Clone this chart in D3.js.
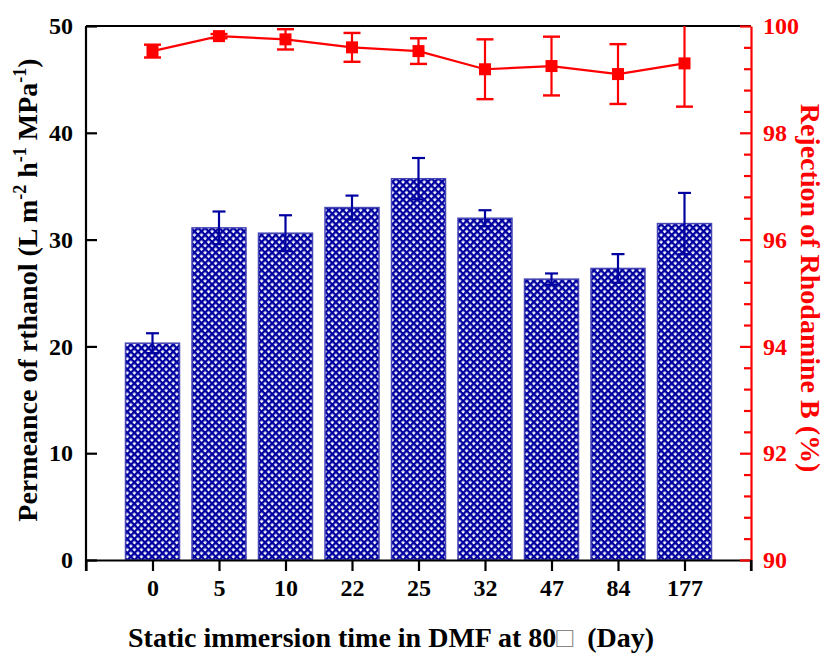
<!DOCTYPE html>
<html>
<head>
<meta charset="utf-8">
<script src="https://cdn.jsdelivr.net/npm/d3@7"></script>
<style>
  body { margin: 0; background: #fff; }
  svg { display: block; font-family: "Liberation Serif", "Times New Roman", serif; font-weight: bold; }
</style>
</head>
<body>
<div id="chart"></div>
<script>
// data
var days = ["0", "5", "10", "22", "25", "32", "47", "84", "177"];
var permeance = [20.3, 31.1, 30.6, 33.0, 35.7, 32.0, 26.3, 27.3, 31.5];
var permeanceErr = [0.93, 1.53, 1.68, 1.12, 1.94, 0.75, 0.53, 1.34, 2.87];
var rejection = [99.53, 99.81, 99.75, 99.60, 99.53, 99.19, 99.25, 99.10, 99.30];
var rejectionErr = [0.12, 0.04, 0.19, 0.27, 0.24, 0.56, 0.55, 0.56, 0.81];

var W = 827, H = 657;
var mLeft = 86, mRight = 751, mTop = 26, mBottom = 560;
var blue = "#0000a0", red = "#ff0000";
var tickFont = 24, titleFont = 28;

var svg = d3.select("#chart").append("svg")
  .attr("width", W).attr("height", H);

// crosshatch fill for the bars
var cell = 5, band = 2.35;
var pat = svg.append("defs").append("pattern")
  .attr("id", "hatch")
  .attr("patternUnits", "userSpaceOnUse")
  .attr("width", cell).attr("height", cell)
  .attr("patternTransform", "rotate(45)");
pat.append("rect").attr("width", cell).attr("height", cell).attr("fill", "#fff");
pat.append("rect").attr("width", cell).attr("height", band).attr("fill", blue);
pat.append("rect").attr("width", band).attr("height", cell).attr("fill", blue);

var x = d3.scaleLinear().domain([-1, 9]).range([mLeft, mRight]);
var y = d3.scaleLinear().domain([0, 50]).range([mBottom, mTop]);
var y2 = d3.scaleLinear().domain([90, 100]).range([mBottom, mTop]);

var barW = 54;

// bars
svg.append("g").selectAll("rect")
  .data(permeance)
  .join("rect")
  .attr("x", function(d, i) { return x(i) - barW / 2; })
  .attr("y", function(d) { return y(d); })
  .attr("width", barW)
  .attr("height", function(d) { return y(0) - y(d); })
  .attr("fill", "url(#hatch)")
  .attr("stroke", "#4545b5")
  .attr("stroke-width", 1.5);

// bar error bars
var eb = svg.append("g").attr("stroke", blue).attr("stroke-width", 2.2);
permeance.forEach(function(v, i) {
  var cx = x(i), e = permeanceErr[i];
  eb.append("line").attr("x1", cx).attr("x2", cx).attr("y1", y(v + e)).attr("y2", y(v - e));
  eb.append("line").attr("x1", cx - 6.5).attr("x2", cx + 6.5).attr("y1", y(v + e)).attr("y2", y(v + e));
  eb.append("line").attr("x1", cx - 6.5).attr("x2", cx + 6.5).attr("y1", y(v - e)).attr("y2", y(v - e));
});

// top frame line
svg.append("line")
  .attr("x1", mLeft).attr("x2", mRight).attr("y1", mTop).attr("y2", mTop)
  .attr("stroke", "#000").attr("stroke-width", 2.2);

// rejection line with error bars
var rg = svg.append("g");
rg.append("path")
  .datum(rejection)
  .attr("fill", "none")
  .attr("stroke", red)
  .attr("stroke-width", 2.2)
  .attr("d", d3.line()
    .x(function(d, i) { return x(i); })
    .y(function(d) { return y2(d); }));

rejection.forEach(function(v, i) {
  var cx = x(i), e = rejectionErr[i];
  var hi = v + e, lo = v - e;
  var yHi = Math.max(y2(hi), mTop);
  rg.append("line").attr("x1", cx).attr("x2", cx).attr("y1", yHi).attr("y2", y2(lo))
    .attr("stroke", red).attr("stroke-width", 2.2);
  if (hi <= 100) {
    rg.append("line").attr("x1", cx - 8.5).attr("x2", cx + 8.5).attr("y1", y2(hi)).attr("y2", y2(hi))
      .attr("stroke", red).attr("stroke-width", 2.4);
  }
  rg.append("line").attr("x1", cx - 8.5).attr("x2", cx + 8.5).attr("y1", y2(lo)).attr("y2", y2(lo))
    .attr("stroke", red).attr("stroke-width", 2.4);
  rg.append("rect").attr("x", cx - 6).attr("y", y2(v) - 6).attr("width", 12).attr("height", 12)
    .attr("fill", red);
});

function styleText(g, colour) {
  g.selectAll(".tick text")
    .attr("font-size", tickFont)
    .attr("font-family", "Liberation Serif")
    .attr("font-weight", "bold")
    .attr("fill", colour);
}

// left axis
var gy = svg.append("g")
  .attr("transform", "translate(" + mLeft + ",0)")
  .call(d3.axisLeft(y).tickValues([0, 10, 20, 30, 40, 50]).tickSizeInner(-11).tickSizeOuter(0).tickPadding(13));
gy.select(".domain").attr("stroke-width", 2.2).attr("d", "M0," + mTop + "V" + (mBottom + 11));
gy.selectAll(".tick line").attr("stroke-width", 2.2);
styleText(gy, "#000");

// bottom axis
var gx = svg.append("g")
  .attr("transform", "translate(0," + mBottom + ")")
  .call(d3.axisBottom(x).tickValues(d3.range(-1, 10)).tickSizeInner(11).tickSizeOuter(0).tickPadding(8)
    .tickFormat(function(d) { return days[d] || ""; }));
gx.select(".domain").attr("stroke-width", 2.2);
gx.selectAll(".tick line").attr("stroke-width", 2.2);
styleText(gx, "#000");

// right axis, minor ticks every 0.4
var minor = d3.range(90, 100.01, 0.4).filter(function(d) { return Math.abs(d / 2 - Math.round(d / 2)) > 0.01; });
var gm = svg.append("g")
  .attr("transform", "translate(" + mRight + ",0)")
  .call(d3.axisRight(y2).tickValues(minor).tickSize(-7).tickFormat(""));
gm.select(".domain").remove();
gm.selectAll(".tick line").attr("stroke", red).attr("stroke-width", 2.2);

var gr = svg.append("g")
  .attr("transform", "translate(" + mRight + ",0)")
  .call(d3.axisRight(y2).tickValues([90, 92, 94, 96, 98, 100]).tickSizeInner(-11).tickSizeOuter(0).tickPadding(12));
gr.select(".domain").attr("stroke", red).attr("stroke-width", 2.2);
gr.selectAll(".tick line").attr("stroke", red).attr("stroke-width", 2.2);
styleText(gr, red);

// black stub below right axis
svg.append("line")
  .attr("x1", mRight).attr("x2", mRight).attr("y1", mBottom).attr("y2", mBottom + 11)
  .attr("stroke", "#000").attr("stroke-width", 2.2);

// axis titles
var lt = svg.append("text")
  .attr("transform", "translate(37,290) rotate(-90)")
  .attr("text-anchor", "middle")
  .attr("font-size", titleFont);
lt.append("tspan").text("Permeance of rthanol (L m");
lt.append("tspan").attr("dy", -11).attr("font-size", 18).text("-2");
lt.append("tspan").attr("dy", 11).text(" h");
lt.append("tspan").attr("dy", -11).attr("font-size", 18).text("-1");
lt.append("tspan").attr("dy", 11).text(" MPa");
lt.append("tspan").attr("dy", -11).attr("font-size", 18).text("-1");
lt.append("tspan").attr("dy", 11).text(")");

svg.append("text")
  .attr("transform", "translate(801,288) rotate(90)")
  .attr("text-anchor", "middle")
  .attr("font-size", titleFont)
  .attr("fill", red)
  .text("Rejection of Rhodamine B (%)");

var xt = svg.append("text")
  .attr("x", 391).attr("y", 647)
  .attr("text-anchor", "middle")
  .attr("font-size", titleFont)
  .attr("xml:space", "preserve");
xt.append("tspan").text("Static immersion time in DMF at 80");
xt.append("tspan").attr("font-weight", "normal").attr("fill", "#888").text("\u25A1");
xt.append("tspan").text("  (Day)");
</script>
</body>
</html>
